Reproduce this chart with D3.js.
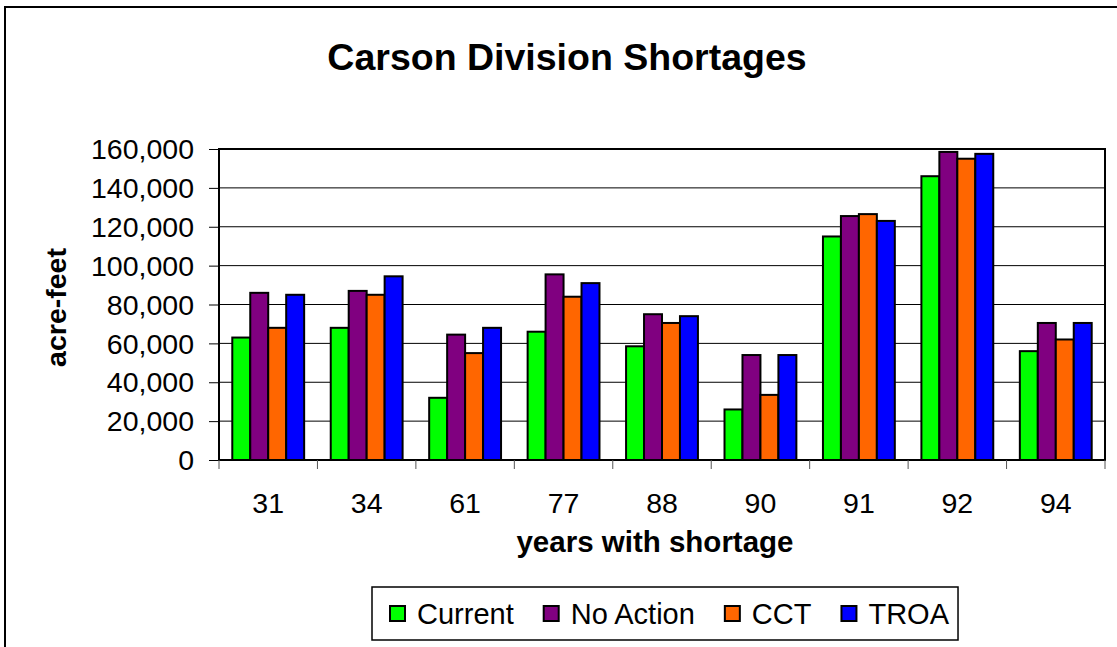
<!DOCTYPE html>
<html>
<head>
<meta charset="utf-8">
<script src="https://cdn.jsdelivr.net/npm/d3@7"></script>
<style>
  html, body { margin: 0; padding: 0; background: #fff; }
  svg { display: block; font-family: "Liberation Sans", Arial, sans-serif; }
</style>
</head>
<body>
<svg id="chart" width="1117" height="647"></svg>
<script>
// Shortage years and modelled shortages (acre-feet) for each scenario
const years = ["31", "34", "61", "77", "88", "90", "91", "92", "94"];
const seriesNames = ["Current", "No Action", "CCT", "TROA"];
const seriesColors = ["#00FF00", "#800080", "#FF6600", "#0000FF"];
const current  = [63000, 68000, 32000, 66000, 58500, 26000, 115000, 146000, 56000];
const noAction = [86000, 87000, 64500, 95500, 75000, 54000, 125500, 158500, 70500];
const cct      = [68000, 85000, 55000, 84000, 70500, 33500, 126500, 155000, 62000];
const troa     = [85000, 94500, 68000, 91000, 74000, 54000, 123000, 157500, 70500];
const yTicks   = [0, 20000, 40000, 60000, 80000, 100000, 120000, 140000, 160000];

const seriesValues = [current, noAction, cct, troa];

const svg = d3.select("#chart");
const W = 1117, H = 647;
const plot = { left: 219, right: 1105, top: 149, bottom: 460 };

// outer chart frame (continues past the right and bottom edges)
svg.append("rect")
  .attr("x", 5).attr("y", 7)
  .attr("width", W + 20).attr("height", H + 20)
  .attr("fill", "#fff").attr("stroke", "#000").attr("stroke-width", 2);

const x0 = d3.scaleBand().domain(years)
  .range([plot.left, plot.right])
  .paddingInner(0.27).paddingOuter(0.135);
const x1 = d3.scaleBand().domain(seriesNames)
  .range([0, x0.bandwidth()]).padding(0);
const y = d3.scaleLinear().domain([0, 160000]).range([plot.bottom, plot.top]);

// horizontal gridlines
svg.append("g").selectAll("line").data(yTicks).join("line")
  .attr("x1", plot.left).attr("x2", plot.right)
  .attr("y1", d => y(d)).attr("y2", d => y(d))
  .attr("stroke", "#000").attr("stroke-width", 1);

// bars
const groups = svg.append("g").selectAll("g").data(years).join("g")
  .attr("transform", d => `translate(${x0(d)},0)`);
groups.selectAll("rect")
  .data((d, i) => seriesNames.map((s, j) => ({ s, j, v: seriesValues[j][i] })))
  .join("rect")
  .attr("x", d => x1(d.s))
  .attr("y", d => y(d.v))
  .attr("width", x1.bandwidth())
  .attr("height", d => y(0) - y(d.v))
  .attr("fill", d => seriesColors[d.j])
  .attr("stroke", "#000").attr("stroke-width", 2);

// plot border
svg.append("rect")
  .attr("x", plot.left).attr("y", plot.top)
  .attr("width", plot.right - plot.left).attr("height", plot.bottom - plot.top)
  .attr("fill", "none").attr("stroke", "#000").attr("stroke-width", 2);

// y axis
const yAxis = d3.axisLeft(y).tickValues(yTicks)
  .tickFormat(d3.format(",")).tickSize(10).tickPadding(15);
const gy = svg.append("g").attr("transform", `translate(${plot.left},0)`).call(yAxis);
gy.select(".domain").remove();
gy.selectAll(".tick line").attr("stroke", "#000");
gy.selectAll(".tick text").attr("font-size", 28.5).attr("fill", "#000")
  .attr("dy", "0.34em")
  .attr("font-family", "Liberation Sans, Arial, sans-serif");

// x axis: ticks sit between the categories
const step = x0.step();
const boundaries = d3.range(years.length + 1).map(i => plot.left + i * step);
svg.append("g").selectAll("line").data(boundaries).join("line")
  .attr("x1", d => d).attr("x2", d => d)
  .attr("y1", plot.bottom).attr("y2", plot.bottom + 9)
  .attr("stroke", "#555").attr("stroke-width", 1);
svg.append("g").selectAll("text").data(years).join("text")
  .attr("x", d => x0(d) + x0.bandwidth() / 2)
  .attr("y", 513)
  .attr("text-anchor", "middle")
  .attr("font-size", 28.5)
  .text(d => d);

// titles
svg.append("text")
  .attr("x", 567).attr("y", 70)
  .attr("text-anchor", "middle")
  .attr("font-size", 37.5).attr("font-weight", "bold")
  .text("Carson Division Shortages");

svg.append("text")
  .attr("x", 655).attr("y", 552)
  .attr("text-anchor", "middle")
  .attr("font-size", 29.5).attr("font-weight", "bold")
  .text("years with shortage");

svg.append("text")
  .attr("transform", `translate(66,${(plot.top + plot.bottom) / 2 + 3}) rotate(-90)`)
  .attr("text-anchor", "middle")
  .attr("font-size", 28.5).attr("font-weight", "bold")
  .text("acre-feet");

// legend
const legend = svg.append("g");
const legendBox = legend.append("rect")
  .attr("fill", "#fff").attr("stroke", "#000").attr("stroke-width", 1.5);
const gap = 30;
let cx = 390;
seriesNames.forEach((name, j) => {
  legend.append("rect")
    .attr("x", cx).attr("y", 606).attr("width", 15).attr("height", 15)
    .attr("fill", seriesColors[j]).attr("stroke", "#000").attr("stroke-width", 2);
  const t = legend.append("text")
    .attr("x", cx + 27).attr("y", 624)
    .attr("font-size", 29)
    .text(name);
  cx += 27 + t.node().getComputedTextLength() + gap;
});
legendBox.attr("x", 372).attr("y", 587)
  .attr("width", cx - gap + 9 - 372).attr("height", 53);
</script>
</body>
</html>
